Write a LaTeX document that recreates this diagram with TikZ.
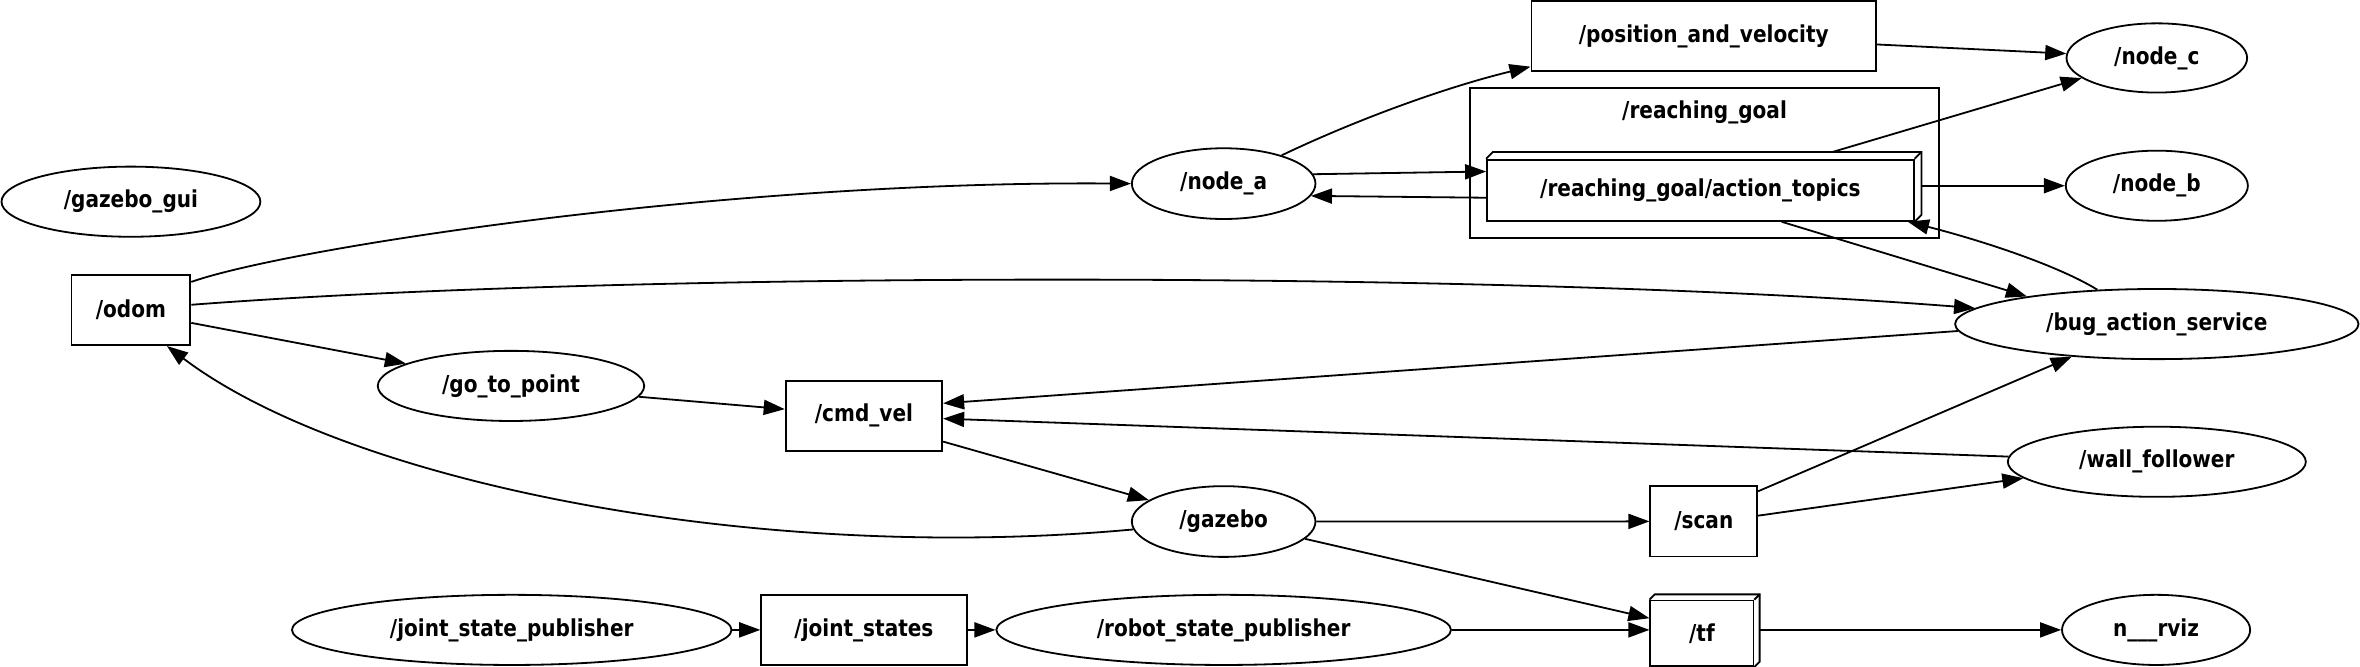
\documentclass[tikz,border=0pt]{standalone}
\usepackage{fontspec}
\newfontfamily\gvfont{DejaVu Sans}[FakeStretch=0.86]
\usepackage{tikz}
\usetikzlibrary{calc, shapes.geometric, arrows.meta}

\begin{document}
\begin{tikzpicture}[x=1pt, y=-1pt, line width=1.2pt,
	font=\gvfont\bfseries\fontsize{15.5}{18}\selectfont,
	proc/.style={ellipse, draw, inner sep=0pt, minimum height=46.6},
	topic/.style={rectangle, draw, inner sep=0pt, minimum height=46.6},
	edge/.style={-{Triangle[length=14pt, width=10pt]}}]
	\useasboundingbox (0,0) rectangle (1568,442.5);
	% left column
	\node[proc, minimum width=172] (gui) at (87,134) {/gazebo\_gui};
	\node[topic, minimum width=79] (odom) at (87,206) {/odom};
	\node[proc, minimum width=177] (gtp) at (339.5,256.4) {/go\_to\_point};
	\node[topic, minimum width=104] (cmd) at (574,276.3) {/cmd\_vel};
	\node[proc, minimum width=292] (jsp) at (340,418.5) {/joint\_state\_publisher};
	\node[topic, minimum width=136.5] (js) at (574,418.5) {/joint\_states};
	% middle
	\node[proc, minimum width=122, minimum height=47] (na) at (813,122) {/node\_a};
	\node[proc, minimum width=122, minimum height=47] (gz) at (813,346.5) {/gazebo};
	\node[proc, minimum width=302] (rsp) at (813,418.5) {/robot\_state\_publisher};
	\node[topic, minimum width=229, minimum height=46.5] (pv) at (1132,24) {/position\_and\_velocity};
	\node[draw, minimum width=311.5, minimum height=99.9, inner sep=0pt] (rg) at (1132.25,108.35) {};
	\node (rgl) at (1132.5,74.8) {/reaching\_goal};
	\node[topic, minimum width=283.5, minimum height=40.7] (act) at (1129.75,126.4) {/reaching\_goal/action\_topics};
	\node[topic, minimum width=71] (scan) at (1132,346.4) {/scan};
	\node[topic, minimum width=68.5, minimum height=43.5] (tf) at (1130.75,420.75) {/tf};
	% right column
	\node[proc, minimum width=120, minimum height=46] (nc) at (1433,38.5) {/node\_c};
	\node[proc, minimum width=121] (nb) at (1433,123.4) {/node\_b};
	\node[proc, minimum width=268] (bas) at (1433,215.3) {/bug\_action\_service};
	\node[proc, minimum width=198] (wf) at (1433,306.8) {/wall\_follower};
	\node[proc, minimum width=125] (rviz) at (1432.5,418.5) {n\_\_\_rviz};
	% 3d faces
	\foreach \b/\d in {act/4.5, tf/3.5} {
		\draw (\b.north west) -- ++(\d,-\d) -- ($(\b.north east)+(\d,-\d)$) -- ($(\b.south east)+(\d,-\d)$) -- (\b.south east);
		\draw (\b.north east) -- ++(\d,-\d);
	}
	\coordinate (actr) at ([xshift=4.5]act.east);
	\coordinate (tfr) at ([xshift=3.5]tf.east);

	\draw[edge] (odom.25) .. controls (190,165) and (480,120) .. (na.west);
	\draw[edge] (odom.5) .. controls (420,180) and (1000,180) .. (bas.175);
	\draw[edge] (odom.-12) -- (gtp.168);
	\draw[edge] (gz.185) .. controls (500,375) and (230,320) .. (odom.-45);
	\draw[edge] (gtp) -- (cmd);
	\draw[edge] (bas.182) -- (cmd.9);
	\draw[edge] (wf.178) -- (cmd.-2);
	\draw[edge] (cmd.-18) -- (gz.164);
	\draw[edge] (na.26) .. controls (900,80) and (960,58) .. (pv.190);
	\draw[edge] (na.6) -- (act.175);
	\draw[edge] (act.182) -- (na.-8);
	\draw[edge] (pv) -- (nc);
	\draw[edge] ([shift={(-54.5,-4.5)}]act.north east) -- (nc.195);
	\draw[edge] (actr |- nb.west) -- (nb.west);
	\draw[edge] ([xshift=54]act.south) -- (bas.168);
	\draw[edge] (bas.150) .. controls (1365,175) and (1310,158) .. ([xshift=-4.5]act.south east);
	\draw[edge] (gz) -- (scan);
	\draw[edge] (gz.-12) -- (tf.164);
	\draw[edge] (scan.29) -- (bas.201);
	\draw[edge] (scan.6) -- (wf.187);
	\draw[edge] (jsp) -- (js);
	\draw[edge] (js) -- (rsp);
	\draw[edge] (rsp.east) -- (rsp.east -| tf.west);
	\draw[edge] (tfr |- rviz.west) -- (rviz.west);
\end{tikzpicture}
\end{document}
